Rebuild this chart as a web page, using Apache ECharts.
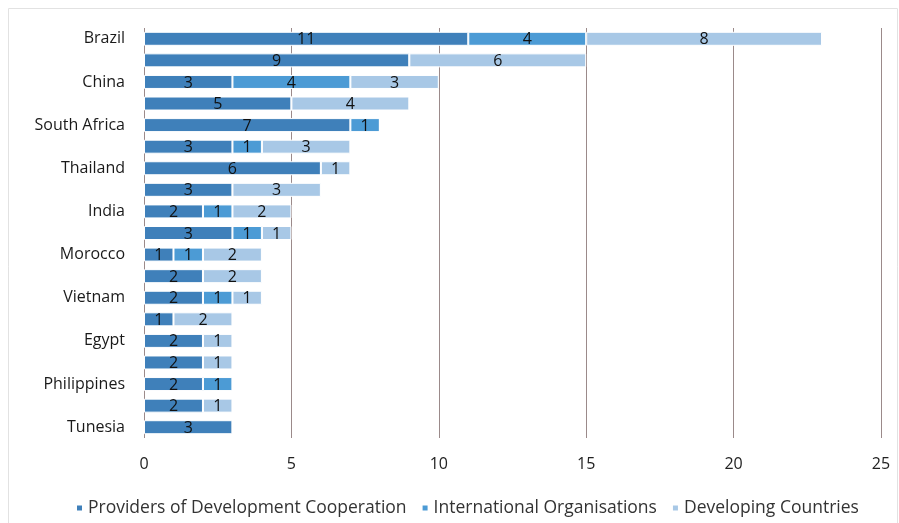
<!DOCTYPE html>
<html>
<head>
<meta charset="utf-8">
<script src="https://cdn.jsdelivr.net/npm/echarts@6/dist/echarts.min.js"></script>
<style>
  html, body { margin: 0; padding: 0; background: #fff; }
  #chart { width: 899px; height: 523px; }
</style>
</head>
<body>
<div id="chart"></div>
<script>
// rows top to bottom; only every other row carries a label in the source
const countries = ['Brazil', '', 'China', '', 'South Africa', '', 'Thailand', '', 'India', '',
  'Morocco', '', 'Vietnam', '', 'Egypt', '', 'Philippines', '', 'Tunesia']
const providers = [11, 9, 3, 5, 7, 3, 6, 3, 2, 3, 1, 2, 2, 1, 2, 2, 2, 2, 3]
const intlOrgs = [4, 0, 4, 0, 1, 1, 0, 0, 1, 1, 1, 0, 1, 0, 0, 0, 1, 0, 0]
const developing = [8, 6, 3, 4, 0, 3, 1, 3, 2, 1, 2, 2, 1, 2, 1, 1, 0, 1, 0]
const xTicks = [0, 5, 10, 15, 20, 25]

const font = 'Open Sans, Noto Sans, sans-serif'

const chart = echarts.init(document.getElementById('chart'))

const seg = (name, data, color) => ({
  name,
  type: 'bar',
  stack: 'total',
  data,
  barWidth: 14,
  itemStyle: { color, borderColor: '#fff', borderWidth: 1 },
  label: {
    show: true,
    position: 'inside',
    color: '#111',
    fontSize: 16,
    fontFamily: font,
    offset: [0, 1],
    formatter: p => (p.value ? p.value : ''),
  },
})

chart.setOption({
  backgroundColor: '#fff',
  animation: false,
  graphic: [{
    type: 'rect',
    shape: { x: 8.5, y: 8.5, width: 889, height: 530 },
    style: { fill: 'none', stroke: '#e2e2e2', lineWidth: 1 },
  }],
  grid: { left: 144, right: 18, top: 28, bottom: 85 },
  xAxis: {
    type: 'value',
    min: xTicks[0],
    max: xTicks[xTicks.length - 1],
    interval: 5,
    axisLine: { show: false },
    axisTick: { show: false },
    axisLabel: { color: '#222', fontSize: 16, fontFamily: font, margin: 18 },
    splitLine: { lineStyle: { color: '#9b8a8a', width: 1 } },
  },
  yAxis: {
    type: 'category',
    data: countries,
    inverse: true,
    axisLine: { show: false },
    axisTick: { show: false },
    axisLabel: { interval: 0, color: '#1a1a1a', fontSize: 16, fontFamily: font, margin: 19 },
  },
  legend: {
    bottom: 1,
    left: 70,
    itemWidth: 7,
    itemHeight: 7,
    itemGap: 14,
    icon: 'rect',
    textStyle: { color: '#333', fontSize: 17.5, fontFamily: font },
    data: ['Providers of Development Cooperation', 'International Organisations', 'Developing Countries'],
  },
  series: [
    seg('Providers of Development Cooperation', providers, '#3f80ba'),
    seg('International Organisations', intlOrgs, '#4c9bd5'),
    seg('Developing Countries', developing, '#a8c8e6'),
  ],
})
</script>
</body>
</html>
